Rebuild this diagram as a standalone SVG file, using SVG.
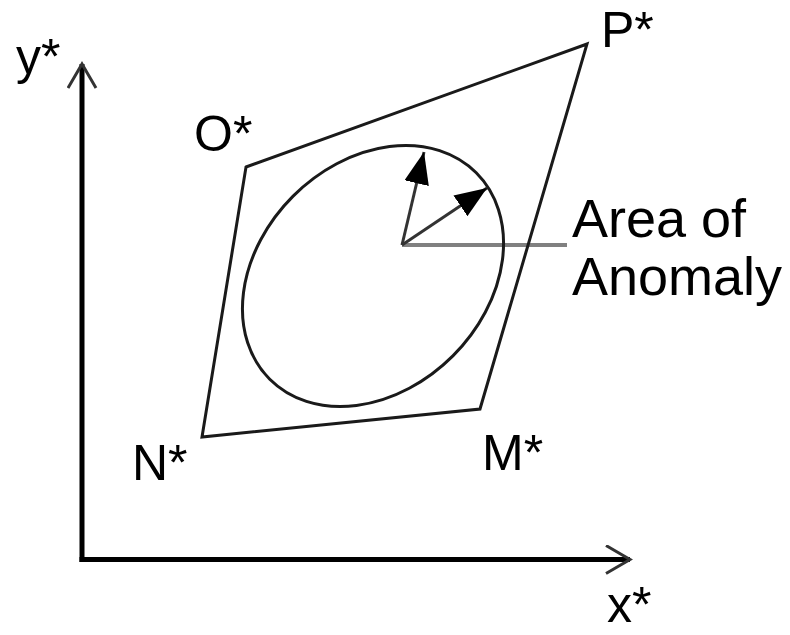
<svg xmlns="http://www.w3.org/2000/svg" width="790" height="635" viewBox="0 0 790 635">
  <defs>
    <style>
      .lbl { font-family: "Liberation Sans", Arial, sans-serif; font-size: 50px; fill: #000; }
      .shape { fill: none; stroke: #1a1a1a; stroke-width: 3; }
      .axis { fill: none; stroke: #000; stroke-width: 5; }
      .vec { fill: none; stroke: #333; stroke-width: 3; }
    </style>
    <marker id="solid" markerUnits="userSpaceOnUse" markerWidth="34" markerHeight="26" refX="32" refY="12.5" orient="auto">
      <path d="M0,0 L32,12.5 L0,25 z" fill="#000"/>
    </marker>
    <marker id="open" markerUnits="userSpaceOnUse" markerWidth="30" markerHeight="32" refX="26" refY="15" orient="auto">
      <path d="M2,1 L26,15 L2,29" fill="none" stroke="#333" stroke-width="3"/>
    </marker>
  </defs>
  <rect width="790" height="635" fill="#fff"/>

  <g id="connectors">
    <line class="axis" x1="82" y1="562" x2="82" y2="64" marker-end="url(#open)"/>
    <line class="axis" x1="79.5" y1="559.5" x2="630" y2="559.5" marker-end="url(#open)"/>
    <line x1="402" y1="245" x2="567" y2="245" stroke="#808080" stroke-width="4"/>
    <line class="vec" x1="402" y1="245" x2="424" y2="152" marker-end="url(#solid)"/>
    <line class="vec" x1="402" y1="245" x2="487" y2="188" marker-end="url(#solid)"/>
  </g>

  <g id="parallelogram">
    <polygon class="shape" points="246,167 587,44 480,409 202,437"/>
  </g>

  <g id="anomaly-ellipse">
    <ellipse class="shape" cx="373" cy="276" rx="146" ry="113" transform="rotate(-45 373 276)"/>
  </g>

  <g id="label-y"><text class="lbl" x="16" y="74">y*</text></g>
  <g id="label-x"><text class="lbl" x="607" y="622">x*</text></g>
  <g id="label-P"><text class="lbl" x="601" y="47">P*</text></g>
  <g id="label-O"><text class="lbl" x="194" y="151">O*</text></g>
  <g id="label-N"><text class="lbl" x="132" y="480">N*</text></g>
  <g id="label-M"><text class="lbl" x="482" y="470">M*</text></g>
  <g id="label-area">
    <text class="lbl" style="font-size:54px" x="572" y="237">Area of</text>
    <text class="lbl" style="font-size:54px" x="572" y="295">Anomaly</text>
  </g>
</svg>
